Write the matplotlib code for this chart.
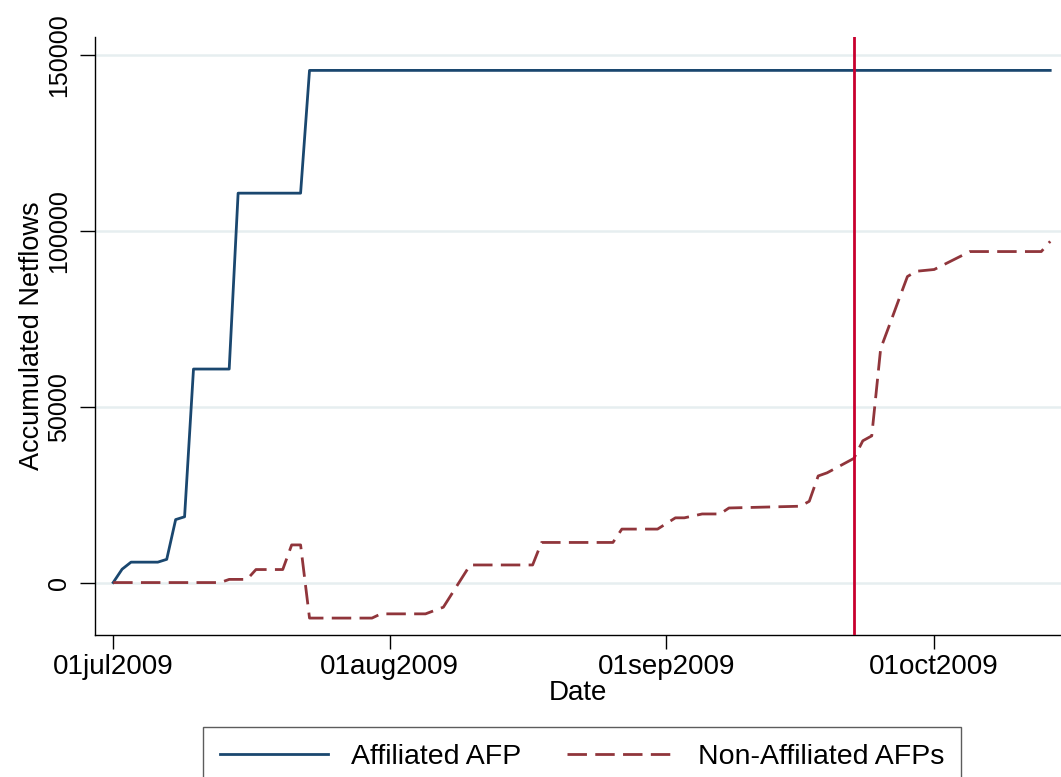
import matplotlib
matplotlib.use("Agg")
import matplotlib.pyplot as plt
import pandas as pd

# === data ===
aff_dates = ["2009-07-01", "2009-07-02", "2009-07-03", "2009-07-06", "2009-07-07",
             "2009-07-08", "2009-07-09", "2009-07-10", "2009-07-14", "2009-07-15",
             "2009-07-22", "2009-07-23", "2009-10-14"]
aff_values = [0, 3800, 5800, 5800, 6600,
              17900, 18700, 60700, 60700, 110700,
              110700, 145600, 145600]

non_dates = ["2009-07-01", "2009-07-13", "2009-07-14", "2009-07-16", "2009-07-17",
             "2009-07-20", "2009-07-21", "2009-07-22", "2009-07-23", "2009-07-30",
             "2009-07-31", "2009-08-05", "2009-08-07", "2009-08-10", "2009-08-17",
             "2009-08-18", "2009-08-26", "2009-08-27", "2009-08-31", "2009-09-02",
             "2009-09-03", "2009-09-05", "2009-09-07", "2009-09-08", "2009-09-16",
             "2009-09-17", "2009-09-18", "2009-09-19", "2009-09-22", "2009-09-23",
             "2009-09-24", "2009-09-25", "2009-09-26", "2009-09-27", "2009-09-28",
             "2009-09-29", "2009-10-01", "2009-10-05", "2009-10-13", "2009-10-14"]
non_values = [0, 0, 900, 900, 3700,
              3700, 10700, 10700, -10100, -10100,
              -8900, -8900, -7000, 5000, 5000,
              11400, 11400, 15200, 15200, 18400,
              18400, 19500, 19500, 21200, 21700,
              23100, 30300, 31200, 35300, 40300,
              41700, 66500, 73300, 80200, 87000,
              88500, 89000, 94100, 94100, 97000]

event_date = "2009-09-22"

x_ticks = ["2009-07-01", "2009-08-01", "2009-09-01", "2009-10-01"]
x_tick_labels = ["01jul2009", "01aug2009", "01sep2009", "01oct2009"]
y_ticks = [0, 50000, 100000, 150000]

# === style ===
plt.rcParams['font.family'] = ['Liberation Sans', 'DejaVu Sans']
BLUE = "#1A476F"
MAROON = "#90353B"
RED = "#C8002E"
GRID = "#E6EEF0"

fig = plt.figure(figsize=(10.61, 7.77), dpi=100)
ax = fig.add_axes([0.0895, 0.1828, 0.9105, 0.7696])

ax.plot(pd.to_datetime(aff_dates), aff_values, color=BLUE, lw=2.0,
        label="Affiliated AFP", zorder=3)
ax.plot(pd.to_datetime(non_dates), non_values, color=MAROON, lw=2.0,
        linestyle=(0, (7, 3)), label="Non-Affiliated AFPs", zorder=3)
ax.axvline(pd.Timestamp(event_date), color=RED, lw=2.0, zorder=4)

ax.set_xlim(pd.Timestamp("2009-06-28 23:00"), pd.Timestamp("2009-10-15 05:00"))
ax.set_ylim(-14900, 155100)

ax.set_xticks(pd.to_datetime(x_ticks))
ax.set_xticklabels(x_tick_labels, fontsize=20)
ax.set_yticks(y_ticks)
ax.set_yticklabels([str(v) for v in y_ticks], fontsize=18, rotation=90, va="center")
ax.tick_params(axis="x", length=10, width=1, pad=4)
ax.tick_params(axis="y", length=11, width=1, pad=6)

ax.grid(axis="y", color=GRID, lw=1.8, zorder=0)
ax.set_axisbelow(True)
for side in ["top", "right"]:
    ax.spines[side].set_visible(False)
for side in ["left", "bottom"]:
    ax.spines[side].set_linewidth(1)

ax.set_xlabel("Date", fontsize=20, labelpad=0)
ax.set_ylabel("Accumulated Netflows", fontsize=19.5)
ax.yaxis.set_label_coords(-0.052, 0.5)

leg = fig.legend(loc="upper center", bbox_to_anchor=(0.5485, 0.0644), ncol=2,
                 fontsize=20.5, frameon=True, fancybox=False, edgecolor="#333333",
                 handlelength=3.8, handletextpad=0.8, columnspacing=1.6,
                 borderpad=0.6, borderaxespad=0)
leg.get_frame().set_linewidth(1)

fig.savefig("out.png", dpi=100, facecolor="white")
